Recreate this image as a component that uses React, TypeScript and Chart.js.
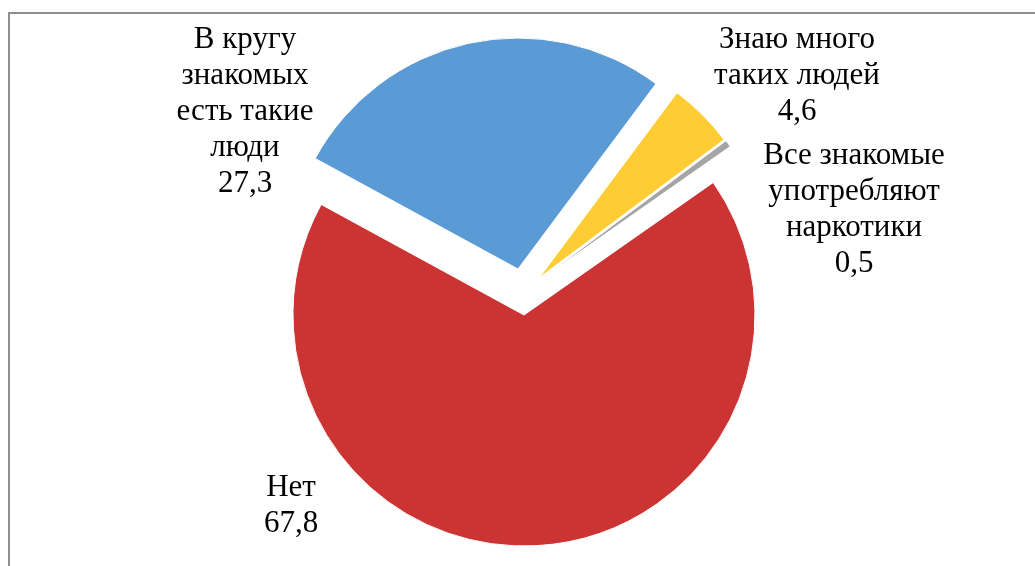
import React, { useEffect, useRef } from "react";
import { Chart, registerables } from "chart.js";

Chart.register(...registerables);

// ---- data ----
const categories: string[] = [
  "Нет",
  "В кругу\nзнакомых\nесть такие\nлюди",
  "Знаю много\nтаких людей",
  "Все знакомые\nупотребляют\nнаркотики",
];
const values: number[] = [67.8, 27.3, 4.6, 0.5];
const colors: string[] = ["#CC3333", "#5B9BD5", "#FFCC33", "#A5A5A5"];

// ---- layout / style ----
const ROTATION = 55;
const RADIUS = 231;
// explosion translation of each slice (px)
const EXPLODE: [number, number][] = [
  [0, 0],
  [-6, -46],
  [15, -37],
  [17, -36],
];
// label block centre relative to pie centre (px)
const LABEL_POS: [number, number][] = [
  [-233, 191],
  [-279, -203],
  [273, -239],
  [330, -105],
];
const FONT = "31px 'Liberation Serif', 'Times New Roman', serif";
const LINE_H = 36;

const fmt = (v: number) => v.toFixed(1).replace(".", ",");

const explodePlugin = {
  id: "explodeSlices",
  beforeDatasetsDraw(chart: any) {
    const meta = chart.getDatasetMeta(0);
    meta.data.forEach((arc: any, i: number) => {
      if (arc.__wrapped) return;
      const proto = Object.getPrototypeOf(arc);
      arc.draw = function (ctx: CanvasRenderingContext2D, area: any) {
        const e = EXPLODE[i] || [0, 0];
        ctx.save();
        ctx.translate(e[0], e[1]);
        proto.draw.call(this, ctx, area);
        ctx.restore();
      };
      arc.__wrapped = true;
    });
  },
};

const labelPlugin = {
  id: "pieLabels",
  afterDraw(chart: any) {
    const ctx: CanvasRenderingContext2D = chart.ctx;
    const meta = chart.getDatasetMeta(0);
    ctx.save();
    ctx.font = FONT;
    ctx.fillStyle = "#000000";
    ctx.textAlign = "center";
    ctx.textBaseline = "middle";
    meta.data.forEach((arc: any, i: number) => {
      const lines = categories[i].split("\n").concat([fmt(values[i])]);
      const cx = arc.x + LABEL_POS[i][0];
      const cy = arc.y + LABEL_POS[i][1];
      const top = cy - ((lines.length - 1) * LINE_H) / 2;
      lines.forEach((ln, k) => ctx.fillText(ln, cx, top + k * LINE_H));
    });
    ctx.restore();
  },
};

export default function App() {
  const ref = useRef<HTMLCanvasElement>(null);
  useEffect(() => {
    if (!ref.current) return;
    const chart = new Chart(ref.current, {
      type: "pie",
      data: {
        labels: categories.map((c) => c.replace(/\n/g, " ")),
        datasets: [
          {
            data: values,
            backgroundColor: colors,
            borderColor: "#FFFFFF",
            borderWidth: 1,
            clip: false as any,
          },
        ],
      },
      options: {
        responsive: false,
        animation: false,
        rotation: ROTATION,
        radius: RADIUS,
        layout: { padding: { left: 13, right: 0, top: 64, bottom: 0 } },
        plugins: {
          legend: { display: false },
          tooltip: { enabled: false },
        },
      },
      plugins: [explodePlugin, labelPlugin],
    });
    return () => chart.destroy();
  }, []);

  return (
    <div
      style={{
        position: "fixed",
        left: 0,
        top: 0,
        width: 1035,
        height: 566,
        overflow: "hidden",
        background: "#FFFFFF",
      }}
    >
      <div
        style={{
          position: "absolute",
          left: 8,
          top: 12,
          width: 1200,
          height: 800,
          borderLeft: "2px solid #8E8E8E",
          borderTop: "2px solid #8E8E8E",
        }}
      />
      <canvas
        ref={ref}
        width={1035}
        height={566}
        style={{ position: "absolute", left: 0, top: 0 }}
      />
    </div>
  );
}
